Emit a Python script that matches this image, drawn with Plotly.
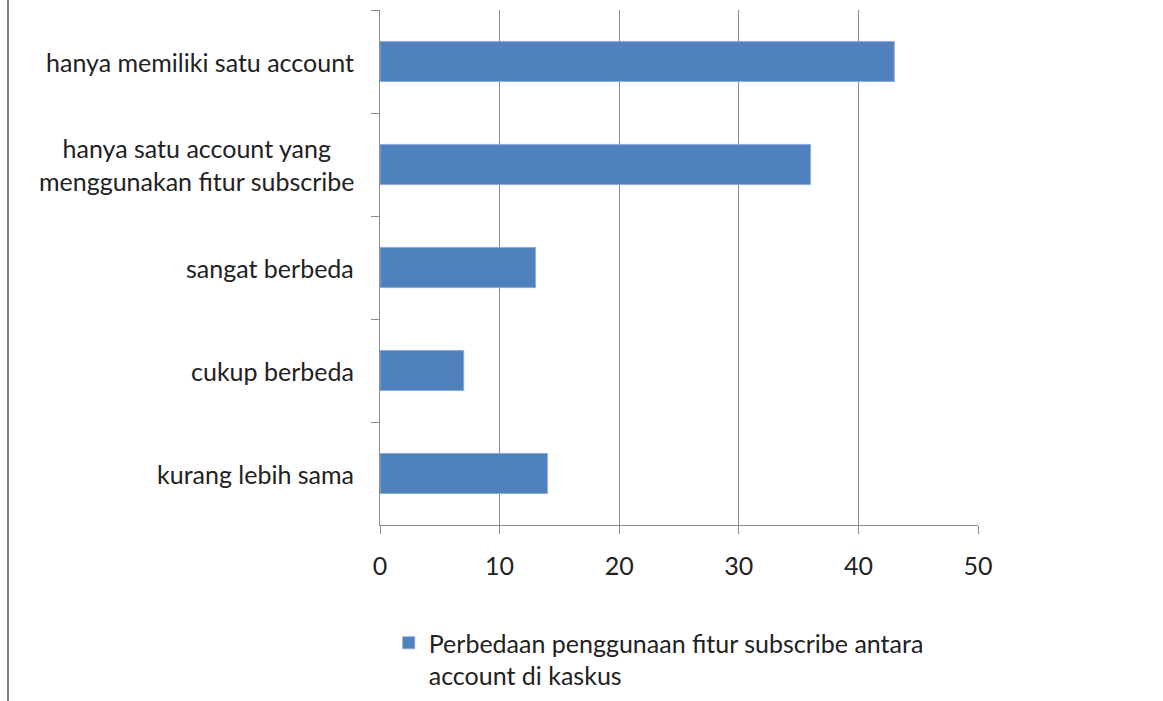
import plotly.graph_objects as go

categories = [
    "hanya memiliki satu account",
    "hanya satu account yang<br>menggunakan fitur subscribe",
    "sangat berbeda",
    "cukup berbeda",
    "kurang lebih sama",
]
values = [43, 36, 13, 7, 14]
series_name = "Perbedaan penggunaan fitur subscribe antara<br>account di kaskus"
x_ticks = [0, 10, 20, 30, 40, 50]

FONT = "Lato"
FS = 25
W, H = 1163, 701
L, R, T, B = 380, 185, 10, 176
PW = W - L - R

fig = go.Figure()
fig.add_trace(go.Bar(
    y=categories, x=values, orientation="h",
    marker=dict(color="#4F81BD", line=dict(color="#8EAADB", width=1)),
    name=series_name, showlegend=True,
))

fig.update_layout(
    width=W, height=H,
    margin=dict(l=L, r=R, t=T, b=B, pad=0, autoexpand=False),
    paper_bgcolor="white", plot_bgcolor="white",
    font=dict(family=FONT, size=FS, color="#222222"),
    bargap=0.61,
    showlegend=True,
    legend=dict(
        orientation="v", x=0.0146, xanchor="left", y=-0.1845, yanchor="top",
        font=dict(family=FONT, size=FS, color="#222222"),
        bgcolor="rgba(0,0,0,0)", itemwidth=30, tracegroupgap=0,
        valign="top",
    ),
    xaxis=dict(
        range=[0, 50], tickvals=x_ticks, ticktext=[str(v) for v in x_ticks],
        showgrid=True, gridcolor="#8C8C8C", gridwidth=1,
        showline=True, linecolor="#8C8C8C", linewidth=1,
        ticks="outside", ticklen=8, tickcolor="#8C8C8C",
        zeroline=False, ticklabelstandoff=11,
        tickfont=dict(family=FONT, size=FS, color="#222222"),
    ),
    yaxis=dict(
        autorange="reversed",
        showline=True, linecolor="#8C8C8C", linewidth=1,
        ticks="outside", ticklen=8, tickcolor="#8C8C8C", tickson="boundaries",
        showgrid=False, showticklabels=False,
    ),
)

for cat in categories:
    fig.add_annotation(
        x=-(L - 356) / PW, xref="paper", y=cat, yref="y",
        text=cat, showarrow=False, xanchor="right", yanchor="middle",
        align="center", font=dict(family=FONT, size=FS, color="#222222"),
    )

fig.add_shape(type="line", xref="paper", yref="paper",
              x0=-(L - 8) / PW, x1=-(L - 8) / PW,
              y0=-B / (H - T - B), y1=1 + T / (H - T - B),
              line=dict(color="#7F7F7F", width=2))

fig.write_html("out.html")
